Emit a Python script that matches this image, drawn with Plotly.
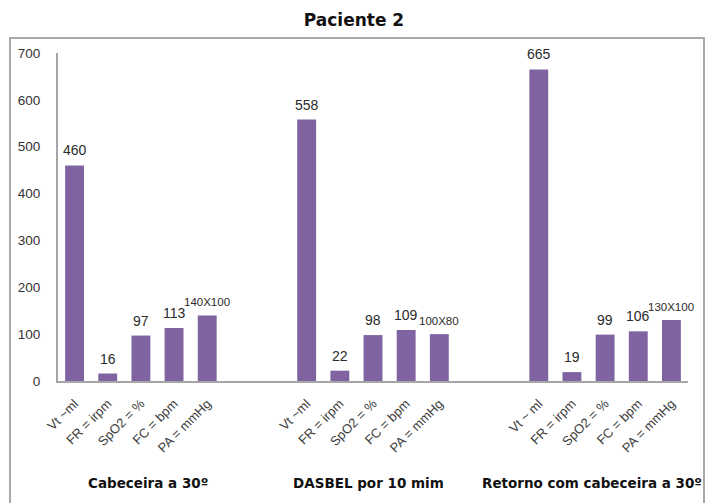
import plotly.graph_objects as go

# Measured parameters per postural condition
groups = ["Cabeceira a 30º", "DASBEL por 10 mim", "Retorno com cabeceira a 30º"]
params_g1 = ["Vt ~ml", "FR = irpm", "SpO2 = %", "FC = bpm", "PA = mmHg"]
params_g2 = ["Vt ~ml", "FR = irpm", "SpO2 = %", "FC = bpm", "PA = mmHg"]
params_g3 = ["Vt ~ ml", "FR = irpm", "SpO2 = %", "FC = bpm", "PA = mmHg"]

values_g1 = [460, 16, 97, 113, 140]
values_g2 = [558, 22, 98, 109, 100]
values_g3 = [665, 19, 99, 106, 130]

labels_g1 = ["460", "16", "97", "113", "140X100"]
labels_g2 = ["558", "22", "98", "109", "100X80"]
labels_g3 = ["665", "19", "99", "106", "130X100"]

y_ticks = [0, 100, 200, 300, 400, 500, 600, 700]

# Category slots: five bars per group, two empty slots between groups
gap = 2
params = [params_g1, params_g2, params_g3]
values = [values_g1, values_g2, values_g3]
labels = [labels_g1, labels_g2, labels_g3]

xs, ys, txt, ticktext = [], [], [], []
pos = 0
for p, v, l in zip(params, values, labels):
    for name, val, lab in zip(p, v, l):
        xs.append(pos)
        ys.append(val)
        txt.append(lab)
        ticktext.append(name)
        pos += 1
    pos += gap

# Plot area in pixels (used to place the frame and group captions)
W, H = 708, 503
L, R, T, B = 58, 20, 53, 122
pw, ph = W - L - R, H - T - B

def px_x(x):
    return (x - L) / pw

def px_y(y):
    return (H - B - y) / ph

group_caption_x = [148, 368, 592]
group_caption_y = 483

bar_color = "#8064A2"
fig = go.Figure()
fig.add_trace(go.Bar(x=xs, y=ys, width=0.57, marker=dict(color=bar_color, line=dict(width=0)),
                     showlegend=False, hoverinfo="x+y"))

annotations = []
for x, y, t in zip(xs, ys, txt):
    annotations.append(dict(x=x, y=y, xref="x", yref="y", text=t, showarrow=False,
                            yanchor="bottom", yshift=5,
                            font=dict(family="Liberation Sans", size=11.5 if "X" in t else 14,
                                      color="#2b2b2b")))
for cx, g in zip(group_caption_x, groups):
    annotations.append(dict(x=px_x(cx), y=px_y(group_caption_y), xref="paper", yref="paper",
                            text="<b>" + g + "</b>", showarrow=False,
                            yanchor="middle", xanchor="center",
                            font=dict(family="DejaVu Sans", size=13.5, color="#111111")))

fig.update_layout(
    width=W, height=H,
    margin=dict(l=L, r=R, t=T, b=B),
    paper_bgcolor="white", plot_bgcolor="white",
    title=dict(text="<b>Paciente 2</b>", x=0.5, xref="container", xanchor="center",
               y=1 - 20 / H, yref="container", yanchor="middle",
               font=dict(family="DejaVu Sans", size=17, color="#111111")),
    xaxis=dict(range=[-0.5, pos - gap - 0.5], tickvals=xs, ticktext=ticktext, tickangle=-45,
               showgrid=False, zeroline=False, showline=True, linecolor="#a6a6a6", linewidth=2,
               ticks="", ticklabelstandoff=8,
               tickfont=dict(family="Liberation Sans", size=13, color="#404040")),
    yaxis=dict(range=[0, 700], tickvals=y_ticks, showgrid=False, zeroline=False,
               showline=True, linecolor="#a6a6a6", linewidth=2, ticks="", ticklabelstandoff=13,
               tickfont=dict(family="Liberation Sans", size=13.5, color="#333333")),
    annotations=annotations,
    shapes=[dict(type="rect", xref="paper", yref="paper",
                 x0=px_x(10), x1=px_x(704), y0=px_y(520), y1=px_y(38),
                 line=dict(color="#a8a8a8", width=2), fillcolor="rgba(0,0,0,0)", layer="below")],
)

fig.write_html("out.html")
